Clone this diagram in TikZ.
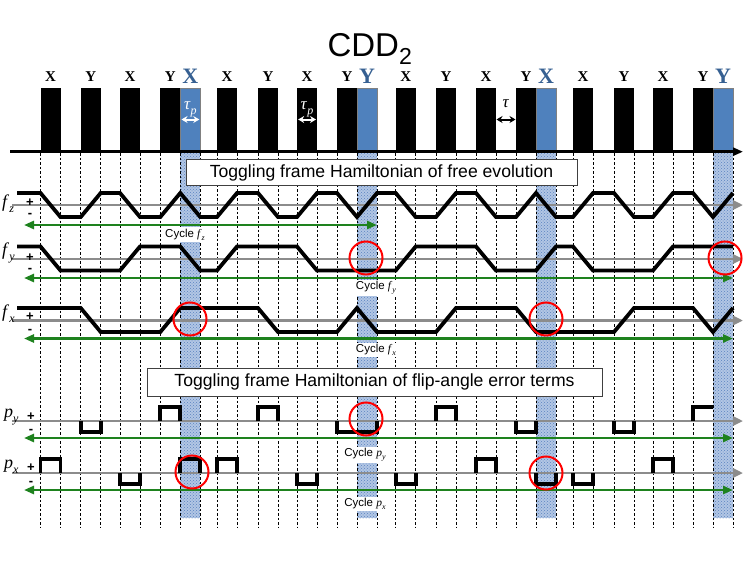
\documentclass[tikz,border=0pt]{standalone}
\usepackage{fontspec}
\setmainfont{Liberation Serif}
\newfontfamily\arialfont{Liberation Sans}
\usetikzlibrary{arrows.meta,patterns}

\definecolor{pulseblue}{RGB}{79,129,189}
\definecolor{lblblue}{RGB}{54,96,146}
\definecolor{stripebg}{RGB}{178,198,228}
\definecolor{stripedot}{RGB}{90,130,192}
\definecolor{axisgray}{RGB}{140,140,140}
\definecolor{cyclegreen}{RGB}{30,130,30}

\newcommand{\sbs}[3]{\textit{#1}\raisebox{-0.28em}{\fontsize{#3}{#3}\selectfont\textit{#2}}}
\newcommand{\cyclab}[2]{Cycle {\rmfamily\sbs{#1}{#2}{8}}}

\tikzset{
  pulse/.style={fill=black,draw=none},
  bpulse/.style={fill=pulseblue,draw=gray,line width=0.6pt},
  gridline/.style={draw=black,line width=0.6pt,dash pattern=on 2.5pt off 2pt},
  stripebase/.style={fill=stripebg,draw=none},
  stripedots/.style={pattern=crosshatch dots,pattern color=stripedot},
  axisline/.style={draw=axisgray,line width=2.6pt,-{Triangle[length=10pt,width=9pt]}},
  baseline/.style={draw=black,line width=2.6pt,-{Triangle[length=10pt,width=8pt]}},
  wave/.style={draw=black,line width=3.8pt},
  cyc/.style={draw=cyclegreen,line width=2.6pt,{Triangle[length=10pt,width=8pt]}-{Triangle[length=10pt,width=8pt]}},
  ring/.style={draw=red,line width=2pt},
  pl/.style={font=\fontsize{15}{15}\selectfont\bfseries,anchor=base},
  bl/.style={font=\fontsize{22}{22}\selectfont\bfseries,text=lblblue,anchor=base},
  hbox/.style={draw=darkgray,line width=0.8pt,fill=white,font=\arialfont\fontsize{17.6}{20}\selectfont,inner sep=0pt},
  cyclbl/.style={fill=white,inner sep=1.5pt,font=\arialfont\fontsize{11.5}{12}\selectfont,anchor=base},
  rowlbl/.style={font=\fontsize{18}{18}\selectfont,anchor=base west,inner sep=0pt},
  sgn/.style={font=\arialfont\bfseries\fontsize{13}{13}\selectfont,inner sep=0pt,text height=7pt,text depth=0pt,anchor=base},
  taulbl/.style={font=\fontsize{17}{17}\selectfont,anchor=base},
  dbl/.style={line width=2pt,{Stealth[length=6pt,width=7pt]}-{Stealth[length=6pt,width=7pt]}},
}

\begin{document}
\begin{tikzpicture}[x=1pt,y=-1pt]
\useasboundingbox[fill=white] (0,0) rectangle (747,578);

% ---------- stripes under blue pulses ----------
\foreach \x in {180.3,357,536,713}{
  \fill[stripebase] (\x,152) rectangle ++(20,366);
  \fill[stripedots] (\x,152) rectangle ++(20,366);
}
% ---------- dashed grid ----------
\foreach \x in {40.5,80.7,120,160.3,180.3,217,258,297,337,357,395.7,436,476,516,536,573,614,653,693,713}{
  \draw[gridline] (\x,153) -- (\x,527);
  \draw[gridline] (\x+20,153) -- (\x+20,527);
}

% ---------- title ----------
\node[font=\arialfont\fontsize{33}{33}\selectfont,anchor=base] (title) at (370,57) {CDD\textsubscript{2}};

% ---------- pulses ----------
\foreach \x in {40.5,80.7,120,160.3,217,258,297,337,395.7,436,476,516,573,614,653,693}
  \fill[pulse] (\x,88.3) rectangle ++(20,63.4);
\foreach \x in {180.3,357,536,713}
  \filldraw[bpulse] (\x,88.3) rectangle ++(20,63.4);

% pulse labels
\foreach \x/\t [count=\i] in {40.5/X,80.7/Y,120/X,160.3/Y,217/X,258/Y,297/X,337/Y,395.7/X,436/Y,476/X,516/Y,573/X,614/Y,653/X,693/Y}
  \node[pl] (pl\i) at (\x+10,81.7) {\t};
\node[bl] (bl1) at (190.3,84) {X};
\node[bl] (bl2) at (367,84) {Y};
\node[bl] (bl3) at (546,84) {X};
\node[bl] (bl4) at (723,84) {Y};

% tau labels
\node[taulbl,text=white] (tp1) at (190.3,110) {\sbs{τ}{p}{12}};
\draw[dbl,white] (181.5,119.5) -- (199.3,119.5);
\node[taulbl,text=white] (tp2) at (307,110) {\sbs{τ}{p}{12}};
\draw[dbl,white] (298.2,119.5) -- (316,119.5);
\node[taulbl] (tau) at (506,107) {\textit{τ}};
\draw[dbl,black] (496.5,119.5) -- (515.5,119.5);

% baseline
\draw[baseline] (10,151.7) -- (743,151.7);

% ---------- boxes ----------
\node[hbox,minimum width=391pt,minimum height=26pt] (box1) at (381.5,172.5) {Toggling frame Hamiltonian of free evolution};
\node[hbox,minimum width=455pt,minimum height=28pt] (box2) at (374.5,382) {Toggling frame Hamiltonian of flip-angle error terms};

% ---------- f_z ----------
\draw[axisline] (12,205) -- (743,205);
\draw[wave] (17,193) -- (40.5,193) -- (60.5,217) -- (80.7,217) -- (100.7,193) -- (120,193) -- (140,217) -- (160.3,217) -- (180.3,193) -- (200.3,217) -- (217,217) -- (237,193) -- (258,193) -- (278,217) -- (297,217) -- (317,193) -- (337,193) -- (357,217) -- (377,193) -- (395.7,193) -- (415.7,217) -- (436,217) -- (456,193) -- (476,193) -- (496,217) -- (516,217) -- (536,193) -- (556,217) -- (573,217) -- (593,193) -- (614,193) -- (634,217) -- (653,217) -- (673,193) -- (693,193) -- (713,217) -- (733,193);
\draw[cyc] (24,225) -- (377,225);
\node[cyclbl] (cfz) at (185,237.3) {\cyclab{f}{z}};
\node[rowlbl] (lfz) at (2,207) {\sbs{f}{z}{12}};
\node[sgn] (pz) at (30,206) {+};
\node[sgn] (mz) at (30,217.5) {-};

% ---------- f_y ----------
\draw[axisline] (12,259) -- (743,259);
\draw[wave] (17,246.5) -- (40.5,246.5) -- (60.5,270.5) -- (120,270.5) -- (140,246.5) -- (180.3,246.5) -- (200.3,270.5) -- (217,270.5) -- (237,246.5) -- (297,246.5) -- (317,270.5) -- (395.7,270.5) -- (415.7,246.5) -- (476,246.5) -- (496,270.5) -- (536,270.5) -- (556,246.5) -- (573,246.5) -- (593,270.5) -- (653,270.5) -- (673,246.5) -- (733,246.5);
\draw[cyc] (24,278) -- (733,278);
\node[cyclbl] (cfy) at (376,289.5) {\cyclab{f}{y}};
\node[rowlbl] (lfy) at (2,255) {\sbs{f}{y}{12}};
\node[sgn] (py) at (30,261) {+};
\node[sgn] (my) at (30,272.5) {-};

% ---------- f_x ----------
\draw[axisline] (12,320.5) -- (743,320.5);
\draw[wave] (17,308) -- (80.7,308) -- (100.7,332) -- (160.3,332) -- (180.3,308) -- (258,308) -- (278,332) -- (337,332) -- (357,308) -- (377,332) -- (436,332) -- (456,308) -- (516,308) -- (536,332) -- (614,332) -- (634,308) -- (693,308) -- (713,332) -- (733,308);
\draw[cyc] (24,338.5) -- (733,338.5);
\node[cyclbl] (cfx) at (376,352.5) {\cyclab{f}{x}};
\node[rowlbl] (lfx) at (2,317) {\sbs{f}{x}{12}};
\node[sgn] (px) at (30,320.5) {+};
\node[sgn] (mx) at (30,333.5) {-};

% ---------- p_y ----------
\draw[axisline] (12,421) -- (743,421);
\draw[wave] (80.7,421) -- (80.7,432) -- (100.7,432) -- (100.7,421);
\draw[wave] (160.3,421) -- (160.3,407) -- (180.3,407) -- (180.3,421);
\draw[wave] (258,421) -- (258,407) -- (278,407) -- (278,421);
\draw[wave] (337,421) -- (337,432) -- (377,432) -- (377,421);
\draw[wave] (436,421) -- (436,407) -- (456,407) -- (456,421);
\draw[wave] (516,421) -- (516,432) -- (536,432) -- (536,421);
\draw[wave] (614,421) -- (614,432) -- (634,432) -- (634,421);
\draw[wave] (693,421) -- (693,407) -- (713,407);
\draw[cyc] (24,438) -- (733,438);
\node[cyclbl] (cpy) at (365,456.7) {\cyclab{p}{y}};
\node[rowlbl] (lpy) at (4,417) {\sbs{p}{y}{12}};
\node[sgn] (ppy) at (31,420) {+};
\node[sgn] (mpy) at (31,433) {-};

% ---------- p_x ----------
\draw[axisline] (12,473) -- (743,473);
\draw[wave] (40.5,473) -- (40.5,459) -- (60.5,459) -- (60.5,473);
\draw[wave] (120,473) -- (120,484) -- (140,484) -- (140,473);
\draw[wave] (180.3,473) -- (180.3,459) -- (200.3,459) -- (200.3,473);
\draw[wave] (217,473) -- (217,459) -- (237,459) -- (237,473);
\draw[wave] (297,473) -- (297,484) -- (317,484) -- (317,473);
\draw[wave] (395.7,473) -- (395.7,484) -- (415.7,484) -- (415.7,473);
\draw[wave] (476,473) -- (476,459) -- (496,459) -- (496,473);
\draw[wave] (536,473) -- (536,484) -- (556,484) -- (556,473);
\draw[wave] (573,473) -- (573,484) -- (593,484) -- (593,473);
\draw[wave] (653,473) -- (653,459) -- (673,459) -- (673,473);
\draw[cyc] (24,490) -- (733,490);
\node[cyclbl] (cpx) at (365,506.7) {\cyclab{p}{x}};
\node[rowlbl] (lpx) at (4,468) {\sbs{p}{x}{12}};
\node[sgn] (ppx) at (31,471.5) {+};
\node[sgn] (mpx) at (31,485) {-};

% ---------- red circles ----------
\draw[ring] (366,258) circle (16.5);
\draw[ring] (725,258) circle (16.5);
\draw[ring] (190,319) circle (16.5);
\draw[ring] (546,319) circle (16.5);
\draw[ring] (366,419) circle (16.5);
\draw[ring] (192,472) circle (16.5);
\draw[ring] (546,473) circle (16.5);
\end{tikzpicture}
\end{document}
